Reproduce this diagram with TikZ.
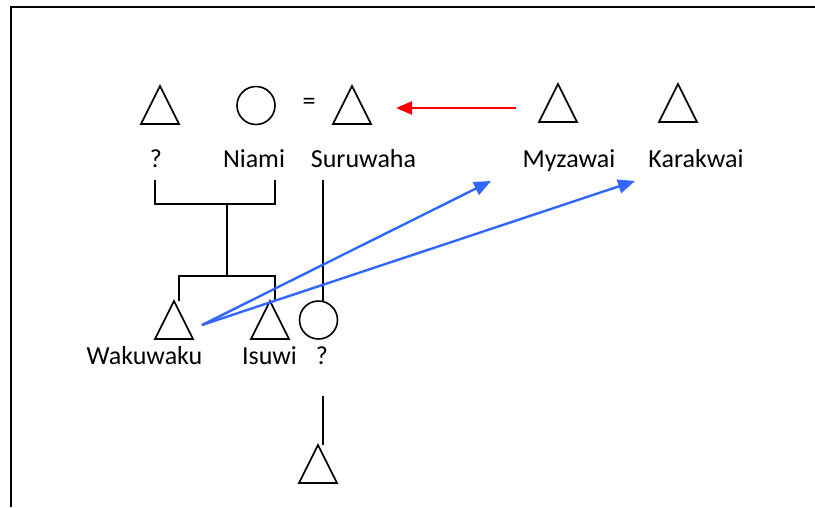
\documentclass[tikz,border=0pt]{standalone}
\usepackage{fontspec}
\setmainfont{Carlito}
\usetikzlibrary{shapes.geometric,arrows.meta}

\definecolor{linkblue}{RGB}{51,102,255}
\definecolor{linkred}{RGB}{255,0,0}

\tikzset{
	male/.style={draw, isosceles triangle, shape border rotate=90, isosceles triangle stretches,
		minimum width=38pt, minimum height=38pt, inner sep=0pt, outer sep=0pt, line width=1.6pt,
		line join=miter, anchor=apex},
	female/.style={draw, circle, minimum size=38pt, inner sep=0pt, outer sep=0pt, line width=1.6pt},
	person/.style={font=\fontsize{26}{31}\selectfont, anchor=base, inner sep=0pt},
	kin/.style={line width=1.6pt},
	link/.style={linkblue, line width=2.4pt, -{Triangle[length=17pt,width=14pt]}},
	redlink/.style={linkred, line width=2.4pt, -{Triangle[length=16pt,width=13pt]}},
}

\begin{document}
\begin{tikzpicture}[x=1pt,y=-1pt]

		\useasboundingbox (0,0) rectangle (815,507);
		% frame, running off the page at right and bottom
		\draw[line width=1.6pt] (11,507) -- (11,7) -- (815,7);

		% first generation
		\node[male] (unk) at (160,86) {};
		\node[female] (niami) at (256,105.5) {};
		\node[person, anchor=center] (eq) at (309,104) {=};
		\node[male] (suru) at (352,86) {};
		\node[male] (myza) at (558,84) {};
		\node[male] (kara) at (678,84) {};

		\node[person] (l-unk) at (156,167) {?};
		\node[person] (l-niami) at (254,167) {Niami};
		\node[person] (l-suru) at (363.5,167) {Suruwaha};
		\node[person] (l-myza) at (569,167) {Myzawai};
		\node[person] (l-kara) at (696,167) {Karakwai};

		% second generation
		\node[male] (waku) at (174,301) {};
		\node[male] (isuwi) at (270,301) {};
		\node[female] (wife) at (318.5,320) {};
		\node[male] (son) at (318,445) {};

		\node[person] (l-waku) at (144.5,364) {Wakuwaku};
		\node[person] (l-isuwi) at (269.5,364) {Isuwi};
		\node[person] (l-wife) at (322,364) {?};

		% descent lines
		\coordinate (par1) at (155,180);
		\coordinate (par2) at (275,180);
		\coordinate (drop) at (227,204);
		\coordinate (kid1) at (179,301);
		\coordinate (kid2) at (275,301);
		\coordinate (suru-d) at (323,180);
		\coordinate (wife-d) at (323,396);

		\draw[kin] (par1) -- ++(0,24) -| (par2);
		\draw[kin] (drop) -- ++(0,72) coordinate (sibs);
		\draw[kin] (kid1) |- (sibs) -| (kid2);
		\draw[kin] (suru-d) -- (suru-d |- wife.north);
		\draw[kin] (wife-d) -- (wife-d |- son.apex);

		% links
		\coordinate (red-from) at (516,108);
		\coordinate (red-to) at (396,108);
		\draw[redlink] (red-from) -- (red-to);

		\coordinate (waku-r) at (202,325);
		\coordinate (to-myza) at (491,181);
		\coordinate (to-kara) at (635,181);
		\draw[link] (waku-r) -- (to-myza);
		\draw[link] (waku-r) -- (to-kara);

	\end{tikzpicture}
\end{document}
